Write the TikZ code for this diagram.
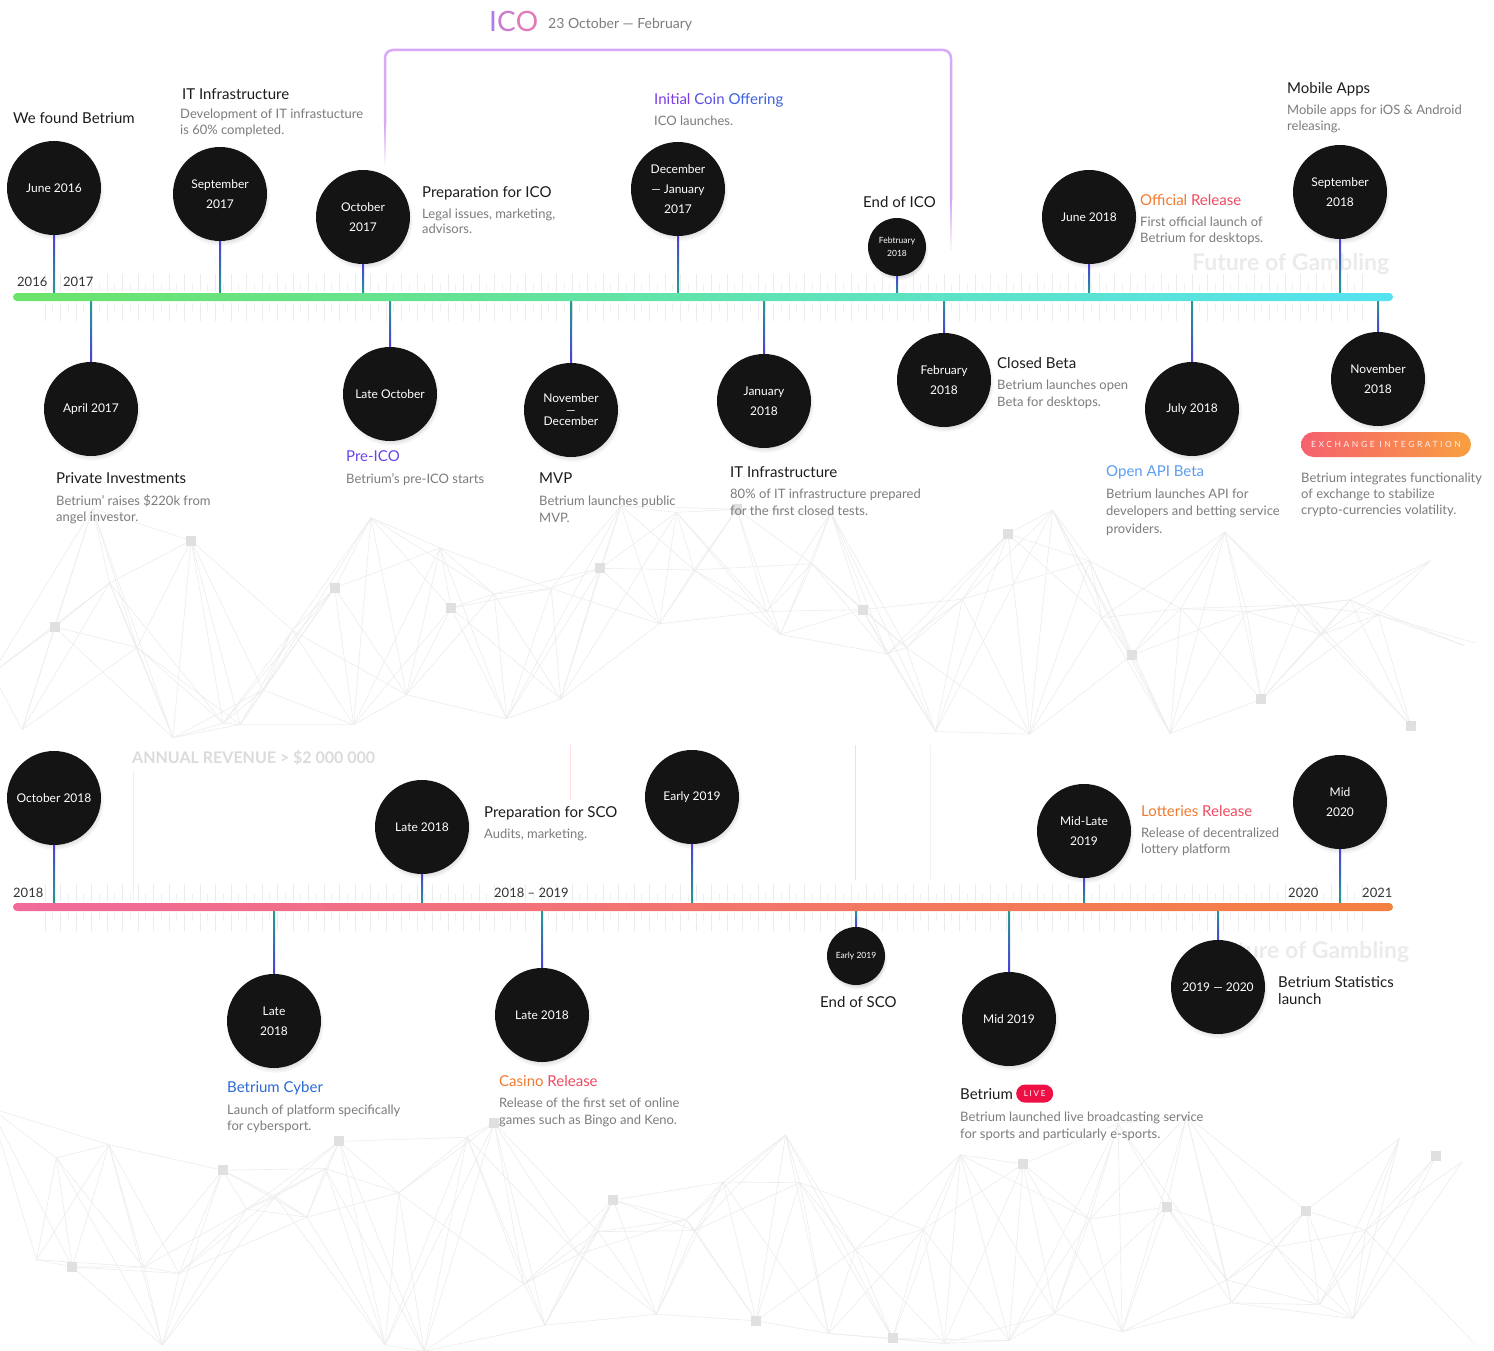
\documentclass[tikz,border=0pt]{standalone}
\usepackage{fontspec}
\setmainfont{Lato}
\usetikzlibrary{calc,shadows}
\definecolor{circ}{HTML}{141414}
\definecolor{titlecol}{HTML}{1C1C1C}
\definecolor{desccol}{HTML}{7C7C7C}
\definecolor{yearcol}{HTML}{333333}
\definecolor{stemB}{HTML}{4A3FD9}
\definecolor{stemT}{HTML}{21A38A}
\definecolor{tlA}{HTML}{6CE36A}
\definecolor{tlB}{HTML}{55E3F2}
\definecolor{tlC}{HTML}{F06A9B}
\definecolor{tlD}{HTML}{F48040}
\definecolor{bracket}{HTML}{D9A9F7}
\definecolor{icoA}{HTML}{7A3EE6}
\definecolor{icoB}{HTML}{5A4FE3}
\definecolor{icoC}{HTML}{3B62E0}
\definecolor{preico}{HTML}{6A45E6}
\definecolor{apiblue}{HTML}{5D9CF0}
\definecolor{cyber}{HTML}{2A6BD4}
\definecolor{orA}{HTML}{F07A30}
\definecolor{orB}{HTML}{EE4A62}
\definecolor{pillA}{HTML}{F6606E}
\definecolor{pillB}{HTML}{F8A040}
\definecolor{livered}{HTML}{EE0F45}
\definecolor{hI}{HTML}{B07BE8}
\definecolor{hC}{HTML}{C97CCF}
\definecolor{hO}{HTML}{E27AB8}
\tikzset{
  evt/.style={circle, fill=circ, text=white, minimum size=94pt, inner sep=0pt, align=center,
    font=\fontsize{12}{20}\selectfont,
    circular drop shadow={shadow xshift=1pt, shadow yshift=-3pt, opacity=0.3, shadow scale=1.04}},
  evts/.style={evt, minimum size=58pt, font=\fontsize{8.5}{13}\selectfont},
  ttl/.style={anchor=base west, inner sep=0pt, text=titlecol, font=\fontsize{15}{17}\selectfont, align=left},
  dsc/.style={anchor=base west, inner sep=0pt, text=desccol, font=\fontsize{13}{16}\selectfont, align=left},
  yr/.style={anchor=base west, inner sep=0pt, text=yearcol, font=\fontsize{13}{15}\selectfont},
  faint/.style={anchor=base west, inner sep=0pt, text=black!8, font=\bfseries\fontsize{23}{25}\selectfont},
  pill/.style={rounded corners=12.5pt, left color=pillA, right color=pillB, minimum width=170pt,
    minimum height=25pt, inner sep=0pt, text=white!90!pillA, font=\fontsize{8.5}{10}\selectfont\addfontfeature{LetterSpace=30}},
  livebadge/.style={rounded corners=9pt, fill=livered, minimum width=37pt, minimum height=18pt,
    inner sep=0pt, text=white, font=\fontsize{8}{10}\selectfont\addfontfeature{LetterSpace=22}},
  netline/.style={black!7, line width=0.6pt},
  netsq/.style={black!12},
  tick/.style={black!8, line width=1pt},
  mtick/.style={black!6, line width=0.8pt},
}
\begin{document}
\begin{tikzpicture}[x=1pt,y=-1pt]
\useasboundingbox (0,0) rectangle (1494,1351);
\fill[white] (0,0) rectangle (1494,1351);

% ---------- background network ----------
\pgfmathsetseed{12}
\begin{scope}
\clip (0,480) rectangle (1475,742);
\foreach \i in {0,...,55}{
  \pgfmathsetmacro\px{\i*27+12*rand}
  \pgfmathsetmacro\py{620+120*rand}
  \coordinate (na\i) at (\px,\py);
}
\foreach \i in {0,...,51}{
  \foreach \k in {1,2,3,4}{
    \pgfmathtruncatemacro\j{\i+\k}
    \draw[netline] (na\i) -- (na\j);
  }
}
\foreach \i in {2,7,...,52}{\fill[netsq] ($(na\i)+(-5,-5)$) rectangle ($(na\i)+(5,5)$);}
\end{scope}
\begin{scope}
\clip (0,1090) rectangle (1475,1351);
\foreach \i in {0,...,55}{
  \pgfmathsetmacro\px{\i*27+12*rand}
  \pgfmathsetmacro\py{1230+125*rand}
  \coordinate (nb\i) at (\px,\py);
}
\foreach \i in {0,...,51}{
  \foreach \k in {1,2,3,4}{
    \pgfmathtruncatemacro\j{\i+\k}
    \draw[netline] (nb\i) -- (nb\j);
  }
}
\foreach \i in {3,8,...,53}{\fill[netsq] ($(nb\i)+(-5,-5)$) rectangle ($(nb\i)+(5,5)$);}
\end{scope}

% faint vertical lines of the lower panel
\draw[black!6, line width=1pt] (133,770) -- (133,900);
\draw[red!12, line width=1pt] (570,745) -- (570,800);
\draw[red!15, line width=1pt] (855,745) -- (855,880);
\draw[black!5, line width=1pt] (930,745) -- (930,880);

% faint texts
\node[faint] (fg1) at (1192,270) {Future of Gambling};
\node[faint] (fg2) at (1212,958) {Future of Gambling};
\node[faint, text=black!14, font=\bfseries\fontsize{16}{18}\selectfont] (rev) at (132,763) {ANNUAL REVENUE > \$2 000 000};

% ---------- ICO header and bracket ----------
\node[anchor=base west, inner sep=0pt, font=\fontsize{28}{30}\selectfont] (ico) at (489,32)
  {\textcolor{hI}{I}\textcolor{hC}{C}\textcolor{hO}{O}};
\node[anchor=base west, inner sep=0pt, text=desccol, font=\fontsize{14}{16}\selectfont] (icod) at (548,29) {23 October — February};
\draw[bracket, line width=2.5pt, rounded corners=8pt] (385,125) -- (385,50) -- (951,50) -- (951,200);
\foreach \k in {0,...,9}{
  \pgfmathsetmacro\op{1-\k/10}
  \draw[bracket, line width=2.5pt, opacity=\op] (385,125+4*\k) -- (385,129+4*\k);
  \draw[bracket, line width=2.5pt, opacity=\op] (951,200+5*\k) -- (951,205+5*\k);
}

% ---------- ticks ----------
\foreach \x in {45,60.5,...,1370}{
  \draw[tick] (\x,274) -- (\x,291); \draw[tick] (\x,303) -- (\x,321);
  \draw[tick] (\x,884) -- (\x,901); \draw[tick] (\x,913) -- (\x,931);
}
\foreach \x in {52.75,68.25,...,1370}{
  \draw[mtick] (\x,284) -- (\x,291); \draw[mtick] (\x,303) -- (\x,311);
  \draw[mtick] (\x,894) -- (\x,901); \draw[mtick] (\x,913) -- (\x,921);
}

\coordinate (tl1) at (13,297);
\coordinate (tl2) at (13,907);

% ---------- circles, upper timeline ----------
\node[evt] (e1) at (54,188) {June 2016};
\node[evt] (e2) at (220,194) {September\\2017};
\node[evt] (e3) at (363,217) {October\\2017};
\node[evt] (e4) at (678,189) {December\\— January\\2017};
\node[evts] (e5) at (897,247) {Febtruary\\2018};
\node[evt] (e6) at (1089,217) {June 2018};
\node[evt] (e7) at (1340,192) {September\\2018};
\node[evt] (e8) at (91,409) {April 2017};
\node[evt] (e9) at (390,394) {Late October};
\node[evt, font=\fontsize{12}{11.5}\selectfont] (e10) at (571,410) {November\\—\\December};
\node[evt] (e11) at (764,401) {January\\2018};
\node[evt] (e12) at (944,380) {February\\2018};
\node[evt] (e13) at (1192,409) {July 2018};
\node[evt] (e14) at (1378,379) {November\\2018};

% ---------- circles, lower timeline ----------
\node[evt] (f1) at (54,798) {October 2018};
\node[evt] (f2) at (422,827) {Late 2018};
\node[evt] (f3) at (692,797) {Early 2019};
\node[evt] (f4) at (1084,831) {Mid-Late\\2019};
\node[evt] (f5) at (1340,802) {Mid\\2020};
\node[evt] (f6) at (274,1021) {Late\\2018};
\node[evt] (f7) at (542,1015) {Late 2018};
\node[evts] (f8) at (856,956) {Early 2019};
\node[evt] (f9) at (1009,1019) {Mid 2019};
\node[evt] (f10) at (1218,987) {2019 — 2020};

% ---------- stems ----------
\foreach \n in {e1,e2,e3,e4,e5,e6,e7}{
  \shade[top color=stemB, bottom color=stemT] ($(\n.south)+(-1,0)$) rectangle ($(\n.south |- tl1)+(1,0)$);
}
\foreach \n in {e8,e9,e10,e11,e12,e13,e14}{
  \shade[top color=stemT, bottom color=stemB] ($(\n.north |- tl1)+(-1,0)$) rectangle ($(\n.north)+(1,0)$);
}
\foreach \n in {f1,f2,f3,f4,f5}{
  \shade[top color=stemB, bottom color=stemT] ($(\n.south)+(-1,0)$) rectangle ($(\n.south |- tl2)+(1,0)$);
}
\foreach \n in {f6,f7,f8,f9,f10}{
  \shade[top color=stemT, bottom color=stemB] ($(\n.north |- tl2)+(-1,0)$) rectangle ($(\n.north)+(1,0)$);
}

% ---------- timelines ----------
\shade[left color=tlA, right color=tlB, rounded corners=4pt] ($(tl1)+(0,-4)$) rectangle ($(tl1)+(1380,4)$);
\shade[left color=tlC, right color=tlD, rounded corners=4pt] ($(tl2)+(0,-4)$) rectangle ($(tl2)+(1380,4)$);

% ---------- year labels ----------
\node[yr] (y1) at (17,287) {2016};
\node[yr] (y2) at (63,287) {2017};
\node[yr] (y3) at (13,897) {2018};
\node[yr] (y4) at (494,897) {2018 – 2019};
\node[yr] (y5) at (1288,897) {2020};
\node[yr] (y6) at (1362,897) {2021};

% ---------- texts, upper (multi-line nodes are placed by their last baseline) ----------
\node[ttl] (t1) at (13,124) {We found Betrium};
\node[ttl] (t2) at (182,100) {IT Infrastructure};
\node[dsc] (d2) at (180,135) {Development of IT infrastucture\\is 60\% completed.};
\node[ttl] (t3) at (422,198) {Preparation for ICO};
\node[dsc] (d3) at (422,234) {Legal issues, marketing,\\advisors.};
\node[ttl] (t4) at (654,105) {\textcolor{icoA}{Initial} \textcolor{icoB}{Coin} \textcolor{icoC}{Offering}};
\node[dsc] (d4) at (654,126) {ICO launches.};
\node[ttl] (t5) at (863,208) {End of ICO};
\node[ttl] (t6) at (1140,206) {\textcolor{orA}{Official} \textcolor{orB}{Release}};
\node[dsc] (d6) at (1140,243) {First official launch of\\Betrium for desktops.};
\node[ttl] (t7) at (1287,94) {Mobile Apps};
\node[dsc] (d7) at (1287,131) {Mobile apps for iOS \& Android\\releasing.};
\node[ttl] (t8) at (56,483) {Private Investments};
\node[dsc] (d8) at (56,521) {Betrium’ raises \$220k from\\angel investor.};
\node[ttl, text=preico] (t9) at (346,461) {Pre-ICO};
\node[dsc] (d9) at (346,483) {Betrium’s pre-ICO starts};
\node[ttl] (t10) at (539,483) {MVP};
\node[dsc, font=\fontsize{13}{17}\selectfont] (d10) at (539,522) {Betrium launches public\\MVP.};
\node[ttl] (t11) at (730,477) {IT Infrastructure};
\node[dsc, font=\fontsize{13}{17}\selectfont] (d11) at (730,515) {80\% of IT infrastructure prepared\\for the first closed tests.};
\node[ttl] (t12) at (997,368) {Closed Beta};
\node[dsc, font=\fontsize{13}{17.5}\selectfont] (d12) at (997,406.5) {Betrium launches open\\Beta for desktops.};
\node[ttl, text=apiblue] (t13) at (1106,476) {Open API Beta};
\node[dsc, font=\fontsize{13}{17.5}\selectfont] (d13) at (1106,533) {Betrium launches API for\\developers and betting service\\providers.};
\node[pill] (b14) at (1386,444.5) {EXCHANGE INTEGRATION};
\node[dsc] (d14) at (1301,514) {Betrium integrates functionality\\of exchange to stabilize\\crypto-currencies volatility.};

% ---------- texts, lower ----------
\node[ttl] (t16) at (484,817) {Preparation for SCO};
\node[dsc] (d16) at (484,838) {Audits, marketing.};
\node[ttl] (t18) at (1141,816) {\textcolor{orA}{Lotteries} \textcolor{orB}{Release}};
\node[dsc] (d18) at (1141,853) {Release of decentralized\\lottery platform};
\node[ttl, text=cyber] (t20) at (227,1092) {Betrium Cyber};
\node[dsc] (d20) at (227,1130) {Launch of platform specifically\\for cybersport.};
\node[ttl] (t21) at (499,1086) {\textcolor{orA}{Casino} \textcolor{orB}{Release}};
\node[dsc, font=\fontsize{13}{17}\selectfont] (d21) at (499,1124) {Release of the first set of online\\games such as Bingo and Keno.};
\node[ttl] (t22) at (820,1007) {End of SCO};
\node[ttl] (t23) at (960,1099) {Betrium};
\node[livebadge, anchor=west] (b23) at ($(t23.east)+(3,0)$) {LIVE};
\node[dsc, font=\fontsize{13}{17}\selectfont] (d23) at (960,1138) {Betrium launched live broadcasting service\\for sports and particularly e-sports.};
\node[ttl] (t24) at (1278,1004) {Betrium Statistics\\launch};
\end{tikzpicture}
\end{document}
